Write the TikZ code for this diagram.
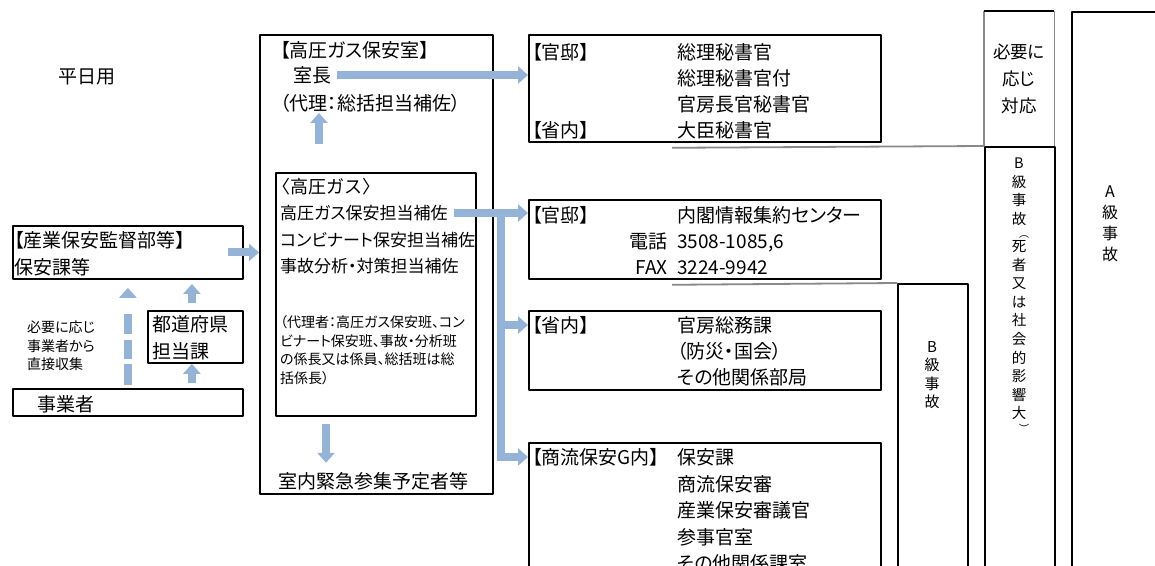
\documentclass[tikz,border=0pt]{standalone}
\usepackage{fontspec}
\setmainfont{Noto Sans CJK JP}[RawFeature=+palt]
\usetikzlibrary{arrows.meta,calc}
\definecolor{flowblue}{RGB}{149,179,215}
\definecolor{rulegray}{RGB}{137,137,137}

\begin{document}
\begin{tikzpicture}[>=latex,line join=bevel,
  box/.style={draw=black,line width=1.8bp,inner sep=0pt,anchor=north west},
  openbox/.style={inner sep=0pt,anchor=north west},
  txt/.style={inner sep=0pt,anchor=west,font=\fontsize{19bp}{26bp}\selectfont,text height=15.8bp,text depth=1.3bp},
  subtxt/.style={inner sep=0pt,anchor=west,font=\fontsize{17bp}{20bp}\selectfont,text height=14.1bp,text depth=1.2bp},
  stack/.style={inner sep=0pt,anchor=north west,align=left},
  vtext/.style={inner sep=0pt,anchor=north,align=center},
  flow/.style={draw=flowblue,line width=8bp,line join=miter,-{Triangle[width=17bp,length=10bp]}},
  grayrule/.style={draw=rulegray,line width=1.8bp},
]
  \useasboundingbox (0bp,0bp) rectangle (1155bp,566bp);
  \clip (0bp,0bp) rectangle (1155bp,566bp);
%%
  % Node: boxes
  \node[box,minimum width=233bp,minimum height=459bp] (office) at (259bp,532bp) {};
  \node[box,minimum width=200bp,minimum height=243bp] (inner) at (275bp,394bp) {};
  \node[box,minimum width=230bp,minimum height=53bp] (kantoku) at (12bp,341bp) {};
  \node[box,minimum width=95bp,minimum height=52bp] (todo) at (147bp,256bp) {};
  \node[box,minimum width=230bp,minimum height=27bp] (jigyo) at (12bp,178bp) {};
  \node[box,minimum width=352bp,minimum height=107bp] (kantei1) at (528bp,532bp) {};
  \node[box,minimum width=352bp,minimum height=79bp] (kantei2) at (528bp,367bp) {};
  \node[box,minimum width=352bp,minimum height=79bp] (shonai) at (528bp,256bp) {};
  \node[box,minimum width=352bp,minimum height=160bp] (shoryu) at (528bp,124bp) {};
  \node[openbox,minimum width=70bp,minimum height=135bp] (optbox) at (984bp,555bp) {};
  \node[box,minimum width=70bp,minimum height=460bp] (bsevere) at (984bp,420bp) {};
  \node[box,minimum width=70bp,minimum height=320bp] (bclass) at (897bp,283bp) {};
  \node[box,minimum width=140bp,minimum height=600bp] (aclass) at (1071bp,555bp) {};
  \draw[grayrule] (optbox.south west) -- (optbox.north west);
  \draw[grayrule] (optbox.south east) -- (optbox.north east);
  \draw[line width=1.8bp] (optbox.north west) -- (optbox.north east);

  % Node: office
  \node[txt] (heijitsu) at (58bp,490bp) {平日用};
  \node[txt] (officetitle) at (280bp,516bp) {【高圧ガス保安室】};
  \node[txt] (chief) at (293bp,491bp) {室長};
  \node[txt] (deputy) at (280bp,463bp) {（代理：総括担当補佐）};
  \node[subtxt,font=\fontsize{18bp}{20bp}\selectfont\addfontfeature{RawFeature=-palt}] (gasunit) at (272bp,379bp) {〈高圧ガス〉};
  \node[subtxt] (gasA) at (280bp,353bp) {高圧ガス保安担当補佐};
  \node[subtxt] (kombi) at (280bp,326bp) {コンビナート保安担当補佐};
  \node[subtxt] (jikoA) at (280bp,300bp) {事故分析・対策担当補佐};
  \node[stack,font=\fontsize{14bp}{18.4bp}\selectfont] (deputies) at (280bp,250.3bp)
    {（代理者：高圧ガス保安班、コン\\ビナート保安班、事故・分析班\\の係長又は係員、総括班は総\\括係長）};
  \node[txt] (staff) at (278bp,85bp) {室内緊急参集予定者等};

  % Node: kantoku, todo, jigyo
  \node[txt] (kantokuA) at (14bp,326bp) {【産業保安監督部等】};
  \node[txt] (kantokuB) at (14bp,299bp) {保安課等};
  \node[stack,font=\fontsize{14bp}{18.5bp}\selectfont] (direct) at (27bp,245.3bp)
    {必要に応じ\\事業者から\\直接収集};
  \node[txt] (todoA) at (152bp,242bp) {都道府県};
  \node[txt] (todoB) at (152bp,215bp) {担当課};
  \node[txt] (jigyoT) at (37bp,162bp) {事業者};

  % Node: kantei1
  \node[txt] (k1lab) at (532bp,514bp) {【官邸】};
  \node[txt] (k1lab2) at (532bp,436bp) {【省内】};
  \node[stack,font=\fontsize{19bp}{26bp}\selectfont] (k1list) at (677bp,522.5bp)
    {総理秘書官\\総理秘書官付\\官房長官秘書官\\大臣秘書官};
  % Node: kantei2
  \node[txt] (k2lab) at (532bp,351bp) {【官邸】};
  \node[txt] (k2name) at (677bp,351bp) {内閣情報集約センター};
  \node[txt,anchor=east] (tel) at (668bp,325bp) {電話};
  \node[txt] (telno) at (677bp,325bp) {3508-1085,6};
  \node[txt,anchor=east] (fax) at (668bp,299bp) {FAX};
  \node[txt] (faxno) at (677bp,299bp) {3224-9942};
  % Node: shonai
  \node[txt] (s3lab) at (532bp,241bp) {【省内】};
  \node[stack,font=\fontsize{19bp}{26bp}\selectfont] (s3list) at (677bp,249.5bp)
    {官房総務課\\（防災・国会）\\その他関係部局};
  % Node: shoryu
  \node[txt] (s4lab) at (532bp,109bp) {【商流保安G内】};
  \node[stack,font=\fontsize{19bp}{26.5bp}\selectfont] (s4list) at (677bp,117.5bp)
    {保安課\\商流保安審\\産業保安審議官\\参事官室\\その他関係課室};

  % Node: grades
  \node[vtext,font=\fontsize{17.5bp}{27bp}\selectfont] (optext) at (1019bp,522bp) {必要に\\応じ\\対応};
  \node[vtext,font=\fontsize{14.5bp}{18.6bp}\selectfont] (bsevtext) at (1019bp,408.3bp)
    {B\\級\\事\\故\\[-5bp]\hspace*{10bp}{\fontsize{10bp}{18.6bp}\selectfont ︵}\\[-5bp]死\\者\\又\\は\\社\\会\\的\\影\\響\\大\\[-5bp]\hspace*{10bp}{\fontsize{10bp}{18.6bp}\selectfont ︶}};
  \node[vtext,font=\fontsize{15bp}{18.3bp}\selectfont] (bclasstext) at (932bp,224.5bp) {B\\級\\事\\故};
  \node[vtext,font=\fontsize{16bp}{21bp}\selectfont] (aclasstext) at (1110bp,380bp) {A\\級\\事\\故};

  % Edge: kantoku -> office
  \draw[flow] ([xshift=-16bp]kantoku.east) -- (office.west |- kantoku.east);
  % Edge: jigyo -> kantoku
  \draw[flow,dash pattern=on 21bp off 5bp on 19bp off 6bp on 20bp off 30bp] ([yshift=3bp]jigyo.north) -- ([yshift=-8bp]kantoku.south);
  % Edge: todo -> kantoku
  \draw[flow] ($(todo.north)+(-3.5bp,7bp)$) -- ($(todo.north)+(-3.5bp,26bp)$);
  % Edge: jigyo -> todo
  \draw[flow] ($(jigyo.north)+(64bp,5bp)$) -- ($(todo.south)+(-3.5bp,0bp)$);
  % Edge: inner -> chief
  \draw[flow] ([shift={(44bp,28bp)}]inner.north west) -- ([shift={(44bp,59bp)}]inner.north west);
  % Edge: inner -> staff
  \draw[flow] ([shift={(51bp,-7bp)}]inner.south west) -- ([shift={(51bp,-46bp)}]inner.south west);
  % Edge: chief -> kantei1
  \draw[flow] ([xshift=6bp]chief.east) -- (kantei1.west |- chief.east);
  % Edge: gasA -> kantei2
  \draw[flow] ([xshift=6bp]gasA.east) -- (kantei2.west |- gasA.east);
  % Edge: gasA -> shonai, shoryu
  \coordinate (split) at (501bp,351bp);
  \draw[flow] (split) |- (shonai.west |- s3lab.west);
  \draw[flow] (split) |- (shoryu.west |- s4lab.west);
  % Edge: rules
  \draw[grayrule] ($(kantei1.south west)+(144bp,-5bp)$) -- (bsevere.north west);
  \draw[grayrule] ($(kantei2.south west)+(144bp,-5bp)$) -- (bclass.north west);
%
\end{tikzpicture}
\end{document}
